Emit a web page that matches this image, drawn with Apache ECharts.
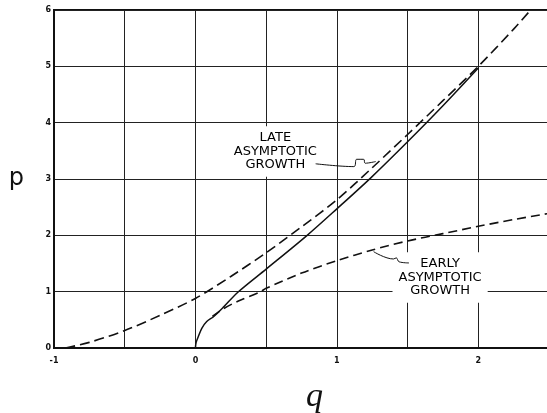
<!DOCTYPE html>
<html>
<head>
<meta charset="utf-8">
<script src="https://cdn.jsdelivr.net/npm/echarts@6/dist/echarts.min.js"></script>
<style>
  html, body { margin: 0; padding: 0; background: #fff; overflow: hidden; }
  #chart { width: 547px; height: 413px; }
</style>
</head>
<body>
<div id="chart"></div>
<script>
// Late asymptotic growth (upper dashed curve)
const lateQ = [-0.92, -0.75, -0.5, -0.25, 0, 0.25, 0.5, 0.75, 1.0, 1.25, 1.5, 1.75, 2.0, 2.25, 2.37];
const lateP = [0, 0.1, 0.31, 0.58, 0.88, 1.27, 1.69, 2.15, 2.63, 3.2, 3.79, 4.39, 5.0, 5.66, 6.0];

// Solution curve (solid)
const solidQ = [0, 0.005, 0.02, 0.045, 0.08, 0.13, 0.2, 0.3, 0.5, 0.79, 1.0, 1.24, 1.5, 1.75, 2.0];
const solidP = [0, 0.1, 0.2, 0.35, 0.47, 0.56, 0.73, 0.99, 1.40, 2.0, 2.47, 3.02, 3.66, 4.3, 4.97];

// Early asymptotic growth (lower dashed curve)
const earlyQ = [0.12, 0.2, 0.3, 0.46, 0.5, 0.75, 1.0, 1.25, 1.5, 1.75, 2.0, 2.25, 2.5];
const earlyP = [0.56, 0.7, 0.83, 1.0, 1.06, 1.33, 1.55, 1.74, 1.90, 2.03, 2.16, 2.28, 2.39];

// Leader lines from the captions to their curves
const lateLeaderQ = [0.85, 1.12, 1.14, 1.19, 1.2, 1.275];
const lateLeaderP = [3.27, 3.22, 3.35, 3.35, 3.28, 3.31];
const earlyLeaderQ = [1.51, 1.44, 1.42, 1.40, 1.26];
const earlyLeaderP = [1.51, 1.53, 1.6, 1.58, 1.71];

// Captions (anchor in data units)
const captions = [
  { q: 0.565, p: 3.49, lines: ['LATE', 'ASYMPTOTIC', 'GROWTH'] },
  { q: 1.73, p: 1.25, lines: ['EARLY', 'ASYMPTOTIC', 'GROWTH'] }
];

// Axis ticks
const qMin = -1, qMax = 2.5, qStep = 0.5;
const pMin = 0, pMax = 6, pStep = 1;

const zip = (a, b) => a.map((v, i) => [v, b[i]]);

const ink = '#111';

const chart = echarts.init(document.getElementById('chart'), null, { renderer: 'canvas' });

chart.setOption({
  animation: false,
  backgroundColor: '#fff',
  grid: {
    left: 54, right: -2, top: 10, bottom: 65,
    containLabel: false, outerBoundsMode: 'none',
    show: true, borderColor: ink, borderWidth: 2, backgroundColor: 'transparent'
  },
  xAxis: {
    type: 'value', min: qMin, max: qMax, interval: qStep,
    name: 'q', nameLocation: 'middle', nameGap: 32,
    nameTextStyle: {
      fontFamily: 'Liberation Serif', fontStyle: 'italic', fontSize: 34, color: ink,
      padding: [0, 0, 0, 26]
    },
    axisLine: { show: true, onZero: false, lineStyle: { color: ink, width: 2 } },
    axisTick: { show: false },
    axisLabel: {
      margin: 9, fontSize: 8, fontWeight: 'bold', color: ink, fontFamily: 'DejaVu Sans',
      formatter: v => (Math.abs(v - Math.round(v)) < 1e-9 ? String(Math.round(v)) : '')
    },
    splitLine: { show: true, lineStyle: { color: '#222', width: 1 } }
  },
  yAxis: {
    type: 'value', min: pMin, max: pMax, interval: pStep,
    name: 'p', nameLocation: 'middle', nameGap: 30, nameRotate: 0,
    nameTextStyle: { fontFamily: 'DejaVu Sans', fontSize: 24, color: ink },
    axisLine: { show: true, onZero: false, lineStyle: { color: ink, width: 2 } },
    axisTick: { show: false },
    axisLabel: { margin: 3, fontSize: 8, fontWeight: 'bold', color: ink, fontFamily: 'DejaVu Sans' },
    splitLine: { show: true, lineStyle: { color: '#222', width: 1 } }
  },
  series: [
    {
      type: 'scatter', z: 1, symbolSize: 0,
      itemStyle: { opacity: 1 },
      data: captions.map(c => ({ value: [c.q, c.p], lines: c.lines })),
      label: {
        show: true, position: 'inside',
        formatter: p => p.data.lines.join('\n'),
        fontFamily: 'DejaVu Sans', fontSize: 13, lineHeight: 13.5, color: '#000',
        opacity: 1,
        align: 'center', backgroundColor: '#fff', padding: [6, 6, 4, 6]
      },
      emphasis: { disabled: true },
      silent: true
    },
    {
      type: 'line', z: 3, data: zip(lateQ, lateP), smooth: 0.3, showSymbol: false,
      lineStyle: { color: ink, width: 1.6, type: [10, 5] }
    },
    {
      type: 'line', z: 3, data: zip(solidQ, solidP), smooth: 0.3, showSymbol: false,
      lineStyle: { color: ink, width: 1.5 }
    },
    {
      type: 'line', z: 3, data: zip(earlyQ, earlyP), smooth: 0.3, showSymbol: false,
      lineStyle: { color: ink, width: 1.6, type: [9, 5] }
    },
    {
      type: 'line', z: 3, data: zip(lateLeaderQ, lateLeaderP), smooth: 0.4, showSymbol: false,
      lineStyle: { color: ink, width: 1 }
    },
    {
      type: 'line', z: 3, data: zip(earlyLeaderQ, earlyLeaderP), smooth: 0.4, showSymbol: false,
      lineStyle: { color: ink, width: 1 }
    }
  ]
});
</script>
</body>
</html>
